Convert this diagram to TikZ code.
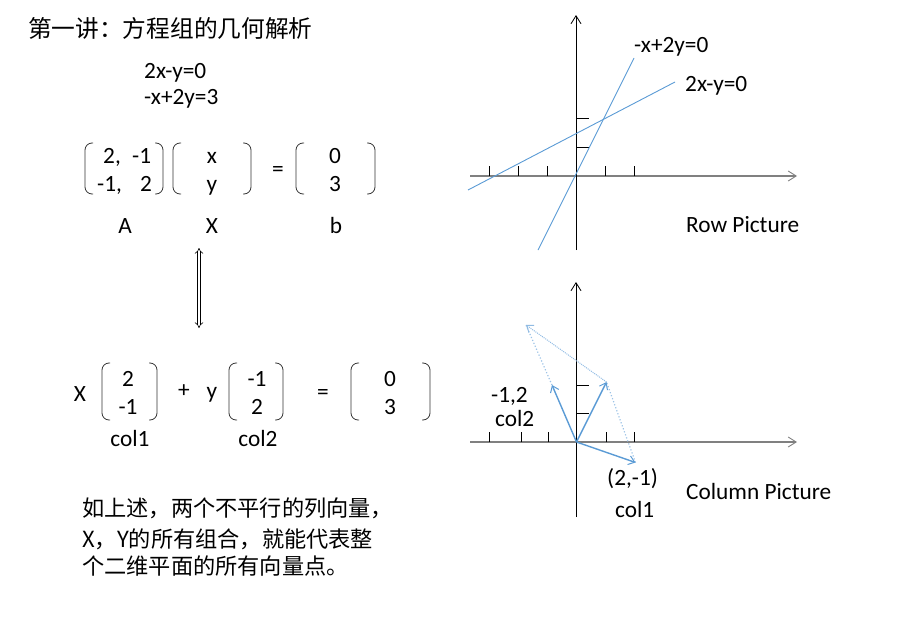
\documentclass[tikz,border=0pt]{standalone}
\usepackage{fontspec}
\setmainfont{Carlito}
\newfontfamily\cjk{Noto Sans CJK SC}
\usetikzlibrary{arrows.meta}
\definecolor{vblue}{HTML}{5B9BD5}
\definecolor{lblue}{HTML}{9DC3E6}
\definecolor{axgrey}{HTML}{808080}
\newcommand\mylpar[4]{\draw[parenline] (#1+8,#2) -- (#1,#2) -- (#1,#3) -- (#1+8,#3);}
\newcommand\myrpar[4]{\draw[parenline] (#1-8,#2) -- (#1,#2) -- (#1,#3) -- (#1-8,#3);}
\begin{document}
\begin{tikzpicture}[x=1pt,y=-1pt,
  txt/.style={inner sep=0pt,font=\fontsize{23.3}{27}\selectfont,text height=15pt,text depth=1.5pt},
  cjktxt/.style={inner sep=0pt,font=\cjk\fontsize{22.2}{26}\selectfont,anchor=west},
  parenline/.style={draw=black!80,line width=0.8pt,rounded corners=7pt},
  xaxis/.style={draw=axgrey,line width=1.6pt,-{Straight Barb[length=8pt,width=10pt,line width=0.9pt]}},
  yaxis/.style={draw=black,line width=0.8pt,-{Straight Barb[length=8pt,width=10pt]}},
  tick/.style={draw=black,line width=0.8pt},
  rowline/.style={draw=vblue,line width=0.9pt},
  vec/.style={draw=vblue,line width=1.4pt,-{Straight Barb[length=6pt,width=9pt,line width=1pt]}},
  dotvec/.style={draw=lblue,line width=1.2pt,dotted},
  thinvec/.style={draw=lblue!80!vblue,line width=1pt,densely dotted,-{Straight Barb[length=6pt,width=9pt,line width=1pt]}},
  dblarrow/.style={draw=black,double,double distance=2.4pt,line width=0.6pt,{Implies[length=5pt]}-{Implies[length=5pt]}}]
\useasboundingbox (0,0) rectangle (914,624);

% ---------- left: equations ----------
\node[inner sep=0pt,anchor=west,font=\cjk\fontsize{23.7}{28}\selectfont] (title) at (28,28) {第一讲：方程组的几何解析};
\node[txt,anchor=west] (eq1) at (144,72) {2x-y=0};
\node[txt,anchor=west] (eq2) at (144,98) {-x+2y=3};

% matrix row
\mylpar{85}{143}{194}{}
\myrpar{163}{143}{194}{}
\node[txt,anchor=west] (a11) at (103,157) {2,};
\node[txt,anchor=west] (a12) at (132,157) {-1};
\node[txt,anchor=west] (a21) at (97,185) {-1,};
\node[txt,anchor=west] (a22) at (140,185) {2};
\mylpar{173}{143}{194}{}
\myrpar{251}{143}{194}{}
\node[txt] (xx) at (212,157) {x};
\node[txt] (xy) at (212,185) {y};
\node[txt] (eqs) at (278,170) {=};
\mylpar{296}{143}{194}{}
\myrpar{375}{143}{194}{}
\node[txt] (b1) at (335,157) {0};
\node[txt] (b2) at (335,185) {3};
\node[txt] (lA) at (125,227) {A};
\node[txt] (lX) at (212,227) {X};
\node[txt] (lb) at (336,227) {b};

% double arrow
\coordinate (dtop) at (199,248);
\coordinate (dbot) at (199,328);
\draw[dblarrow] (dtop) -- (dbot);

% column combination
\node[txt] (cx) at (80,395) {X};
\mylpar{102}{363}{420}{}
\myrpar{157}{363}{420}{}
\node[txt] (c11) at (128,380) {2};
\node[txt] (c12) at (128,408) {-1};
\node[txt] (plus) at (184,391) {+};
\node[txt] (cy) at (212,392) {y};
\mylpar{229}{363}{420}{}
\myrpar{283}{363}{420}{}
\node[txt] (c21) at (257,380) {-1};
\node[txt] (c22) at (257,408) {2};
\node[txt] (eq3) at (323,393) {=};
\mylpar{351}{363}{420}{}
\myrpar{430}{363}{420}{}
\node[txt] (r1) at (390,380) {0};
\node[txt] (r2) at (390,408) {3};
\node[txt] (lc1) at (130,440) {col1};
\node[txt] (lc2) at (258,440) {col2};

% paragraph
\node[cjktxt] (p1) at (82,508) {如上述，两个不平行的列向量，};
\node[cjktxt] (p2) at (82,539) {X，Y的所有组合，就能代表整};
\node[cjktxt] (p3) at (82,566) {个二维平面的所有向量点。};

% ---------- row picture ----------
\coordinate (O1) at (576,176);
\coordinate (x1l) at (470,176);
\coordinate (x1r) at (797,176);
\coordinate (y1b) at (576,250);
\coordinate (y1t) at (576,15);
\draw[xaxis] (x1l) -- (x1r);
\draw[yaxis] (y1b) -- (y1t);
\foreach \t in {489,518,547,605,634}{\draw[tick] (\t,176) -- (\t,166);}
\foreach \t in {147,118}{\draw[tick] (577,\t) -- (589,\t);}
\coordinate (l1a) at (538,250);
\coordinate (l1b) at (634,58);
\coordinate (l2a) at (468,190);
\coordinate (l2b) at (675,82);
\draw[rowline] (l1a) -- (l1b);
\draw[rowline] (l2a) -- (l2b);
\node[txt,anchor=west] (lab1) at (634,46) {-x+2y=0};
\node[txt,anchor=west] (lab2) at (685,85) {2x-y=0};
\node[txt,anchor=west] (rowp) at (686,226) {Row Picture};

% ---------- column picture ----------
\coordinate (O2) at (576.5,442);
\coordinate (x2l) at (470,442);
\coordinate (x2r) at (797,442);
\coordinate (y2b) at (576,517);
\coordinate (y2t) at (576,282);
\draw[xaxis] (x2l) -- (x2r);
\draw[yaxis] (y2b) -- (y2t);
\foreach \t in {489,521,548,606,634}{\draw[tick] (\t,442) -- (\t,432);}
\foreach \t in {413,385}{\draw[tick] (577,\t) -- (589,\t);}
\coordinate (C1) at (635.5,462.5);
\coordinate (V) at (606.5,382);
\coordinate (C2) at (552,385);
\coordinate (P) at (526,325);
\draw[dotvec] (C1) -- (V);
\draw[dotvec] (C2) -- (P);
\draw[thinvec] (V) -- (P);
\draw[vec] (O2) -- (C1);
\draw[vec] (O2) -- (V);
\draw[vec] (O2) -- (C2);
\node[txt,anchor=west] (m12) at (491,396) {-1,2};
\node[txt,anchor=west] (mc2) at (495,420) {col2};
\node[txt,anchor=west] (m21) at (607,479) {(2,-1)};
\node[txt,anchor=west] (mc1) at (615,511) {col1};
\node[txt,anchor=west] (colp) at (686,493) {Column Picture};
\end{tikzpicture}
\end{document}
